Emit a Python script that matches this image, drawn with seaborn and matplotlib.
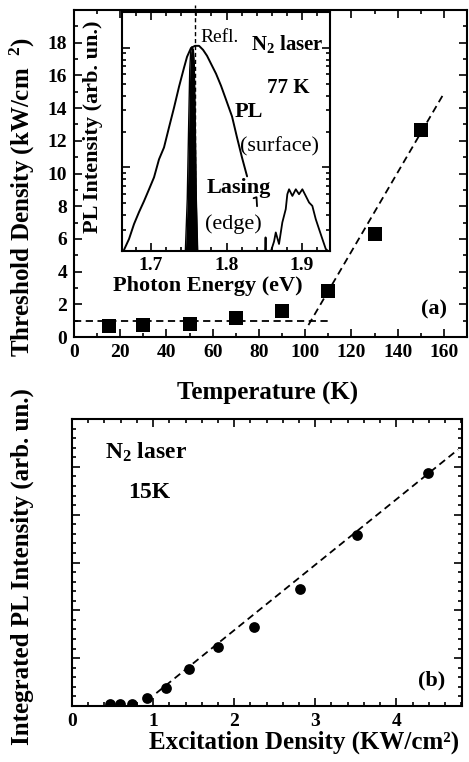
import matplotlib
matplotlib.use("Agg")
import matplotlib.pyplot as plt
import seaborn as sns
import pandas as pd
from matplotlib.ticker import MultipleLocator, LogLocator, NullFormatter

# ---------------- data: panel (a) ----------------
temp_K = [15, 30, 50, 70, 90, 110, 130, 150]
threshold_kw = [0.67, 0.73, 0.79, 1.14, 1.59, 2.82, 6.33, 12.67]
low_fit_T = [0, 111]
low_fit_y = [0.95, 0.95]
high_fit_T = [101.4, 160]
high_fit_y = [0.73, 14.9]

# ---------------- data: inset (77 K spectra) ----------------
pl_energy = [1.6642, 1.6709, 1.6775, 1.6841, 1.6907, 1.6974, 1.7040, 1.7106,
             1.7172, 1.7238, 1.7305, 1.7371, 1.7437, 1.7477, 1.7530, 1.7583,
             1.7636, 1.7689, 1.7742, 1.7795, 1.7861, 1.7927, 1.7993, 1.8073,
             1.8139, 1.8205, 1.8272]
pl_intensity = [2.04, 2.52, 3.36, 4.23, 5.22, 6.57, 8.27, 11.7, 14.7, 21.6,
                31.7, 47.4, 68.3, 84.3, 100.2, 104.2, 104.2, 96.5, 86.0, 73.7,
                60.9, 48.3, 37.0, 26.7, 17.8, 12.1, 8.43]
lasing_energy = [1.7455, 1.7480, 1.7500, 1.7513, 1.7525, 1.7543, 1.7561,
                 1.7573, 1.7585, 1.7600, 1.7618]
lasing_intensity = [2.0, 5.42, 25.2, 65.7, 92.8, 102.2, 96.5, 72.3, 25.2, 5.42, 2.0]
tail_energy = [1.8358, 1.8397, 1.8404]
tail_intensity = [5.53, 5.64, 4.74]
side_energy = [1.8510, 1.8517, 1.8523, 1.8589, 1.8629, 1.8652, 1.8695, 1.8739,
               1.8784, 1.8805, 1.8828, 1.8872, 1.8917, 1.8960, 1.9004, 1.9049,
               1.9093, 1.9136, 1.9181, 1.9225, 1.9269, 1.9314, 1.9344]
side_intensity = [2.0, 2.6, 2.0, 2.0, 2.4, 2.86, 2.29, 3.47, 4.48, 5.97, 6.57,
                  5.78, 6.57, 5.97, 6.57, 5.78, 5.09, 4.77, 3.70, 3.05, 2.52,
                  2.08, 2.0]
refl_energy = [1.7583, 1.7583]
refl_intensity = [2.0, 230.0]

# ---------------- data: panel (b) ----------------
exc_density = [0.47, 0.59, 0.74, 0.92, 1.16, 1.44, 1.80, 2.25, 2.81, 3.51, 4.39]
integrated_pl = [0.04, 0.04, 0.04, 0.16, 0.37, 0.77, 1.23, 1.66, 2.45, 3.58, 4.87]
fit_b_x = [1.04, 4.76]
fit_b_y = [0.27, 5.36]

# ---------------- style ----------------
sns.set_theme(style="ticks", rc={"text.color": "black",
                                 "axes.labelcolor": "black",
                                 "xtick.color": "black",
                                 "ytick.color": "black",
                                 "axes.edgecolor": "black"})
plt.rcParams["font.family"] = ["Liberation Serif", "DejaVu Serif"]
plt.rcParams["font.weight"] = "bold"
plt.rcParams["mathtext.fontset"] = "custom"
plt.rcParams["mathtext.rm"] = "Liberation Serif:bold"
plt.rcParams["mathtext.bf"] = "Liberation Serif:bold"
plt.rcParams["mathtext.it"] = "Liberation Serif:bold"
plt.rcParams["mathtext.default"] = "bf"
plt.rcParams["axes.linewidth"] = 1.5

W, H = 469, 762
fig = plt.figure(figsize=(W / 100, H / 100), dpi=100)
fig.patch.set_facecolor("white")


def rect(l, t, r, b):
    return [l / W, 1 - b / H, (r - l) / W, (b - t) / H]


def ftext(px, py, s, **kw):
    fig.text(px / W, 1 - py / H, s, color="black", **kw)


def style_ticks(ax, size=14):
    ax.tick_params(which="both", direction="in", top=True, right=True,
                   width=1.2, colors="black")
    ax.tick_params(which="major", length=5.5, labelsize=size, pad=5)
    ax.tick_params(which="minor", length=3)
    for lab in ax.get_xticklabels() + ax.get_yticklabels():
        lab.set_fontweight("bold")
    for sp in ax.spines.values():
        sp.set_linewidth(1.5)
        sp.set_color("black")


# ---------------- panel (a) ----------------
ax_a = fig.add_axes(rect(74, 10, 467, 337))
df_a = pd.DataFrame({"T": temp_K, "thr": threshold_kw})
sns.scatterplot(data=df_a, x="T", y="thr", ax=ax_a, marker="s", s=95,
                color="black", edgecolor="black", linewidth=0, zorder=3)
ax_a.plot(low_fit_T, low_fit_y, color="black", lw=1.3, dashes=(4, 2.5))
ax_a.plot(high_fit_T, high_fit_y, color="black", lw=1.3, dashes=(4, 2.5))
ax_a.set_xlim(0, 170)
ax_a.set_ylim(0, 20)
ax_a.xaxis.set_major_locator(MultipleLocator(20))
ax_a.xaxis.set_minor_locator(MultipleLocator(10))
ax_a.yaxis.set_major_locator(MultipleLocator(2))
ax_a.yaxis.set_minor_locator(MultipleLocator(1))
ax_a.set_yticks([0, 2, 4, 6, 8, 10, 12, 14, 16, 18])
ax_a.set_xlabel("")
ax_a.set_ylabel("")
style_ticks(ax_a)

ftext(268, 393, "Temperature (K)", ha="center", va="center", fontsize=18,
      fontweight="bold")
ftext(22, 197, "Threshold Density (kW/cm  $^2$)", ha="center", va="center",
      fontsize=18, fontweight="bold", rotation=90)
ftext(421, 309, "(a)", ha="left", va="center", fontsize=16, fontweight="bold")

# ---------------- inset ----------------
ax_in = fig.add_axes(rect(122, 12, 330, 251))
ax_in.set_facecolor("white")
ax_in.set_yscale("log")
ax_in.fill_between(lasing_energy, 2.0, lasing_intensity, color="black", lw=0)
sns.lineplot(x=lasing_energy, y=lasing_intensity, ax=ax_in, color="black",
             lw=1.0, sort=False, estimator=None)
sns.lineplot(x=pl_energy, y=pl_intensity, ax=ax_in, color="black", lw=1.4,
             sort=False, estimator=None)
sns.lineplot(x=tail_energy, y=tail_intensity, ax=ax_in, color="black", lw=1.3,
             sort=False, estimator=None)
sns.lineplot(x=side_energy, y=side_intensity, ax=ax_in, color="black", lw=1.3,
             sort=False, estimator=None)
ax_in.plot(refl_energy, refl_intensity, color="black", lw=1.0, dashes=(3, 2),
           clip_on=False)
ax_in.set_xlim(1.6616, 1.937)
ax_in.set_ylim(2, 200)
ax_in.xaxis.set_major_locator(MultipleLocator(0.1))
ax_in.xaxis.set_minor_locator(MultipleLocator(0.02))
ax_in.yaxis.set_major_locator(LogLocator(base=10))
ax_in.yaxis.set_minor_locator(LogLocator(base=10, subs=range(2, 10)))
ax_in.yaxis.set_major_formatter(NullFormatter())
ax_in.yaxis.set_minor_formatter(NullFormatter())
ax_in.set_xticks([1.7, 1.8, 1.9])
ax_in.set_xticklabels(["1.7", "1.8", "1.9"])
ax_in.set_xlabel("")
ax_in.set_ylabel("")
style_ticks(ax_in, size=14)
ax_in.tick_params(axis="x", which="major", pad=4)

ftext(208, 286, "Photon Energy (eV)", ha="center", va="center", fontsize=16,
      fontweight="bold")
ftext(93, 127, "PL Intensity (arb. un.)", ha="center", va="center",
      fontsize=16, fontweight="bold", rotation=90)
ftext(200, 37, "Refl.", ha="left", va="center", fontsize=14, fontweight="normal")
ftext(251, 44, "N$_2$ laser", ha="left", va="center", fontsize=15,
      fontweight="bold")
ftext(267, 88, "77 K", ha="left", va="center", fontsize=15, fontweight="bold")
ftext(235, 112, "PL", ha="left", va="center", fontsize=16, fontweight="bold")
ftext(240, 147, "(surface)", ha="left", va="center", fontsize=16,
      fontweight="normal")
ftext(207, 188, "Lasing", ha="left", va="center", fontsize=16,
      fontweight="bold")
ftext(205, 224, "(edge)", ha="left", va="center", fontsize=16,
      fontweight="normal")

# ---------------- panel (b) ----------------
ax_b = fig.add_axes(rect(72, 419, 462, 706))
df_b = pd.DataFrame({"exc": exc_density, "ipl": integrated_pl})
sns.scatterplot(data=df_b, x="exc", y="ipl", ax=ax_b, marker="o", s=60,
                color="black", edgecolor="black", linewidth=0, zorder=3)
ax_b.plot(fit_b_x, fit_b_y, color="black", lw=1.3, dashes=(4, 2.5))
ax_b.set_xlim(0, 4.81)
ax_b.set_ylim(0, 6)
ax_b.xaxis.set_major_locator(MultipleLocator(1))
ax_b.xaxis.set_minor_locator(MultipleLocator(0.2))
ax_b.yaxis.set_major_locator(MultipleLocator(1))
ax_b.yaxis.set_minor_locator(MultipleLocator(0.2))
ax_b.yaxis.set_major_formatter(NullFormatter())
ax_b.set_xticks([0, 1, 2, 3, 4])
ax_b.set_xlabel("")
ax_b.set_ylabel("")
style_ticks(ax_b)

ftext(304, 742, "Excitation Density (KW/cm²)", ha="center", va="center",
      fontsize=18, fontweight="bold")
ftext(22, 567, "Integrated PL Intensity (arb. un.)", ha="center", va="center",
      fontsize=18, fontweight="bold", rotation=90)
ftext(105, 452, "N$_2$ laser", ha="left", va="center", fontsize=17,
      fontweight="bold")
ftext(128, 492, "15K", ha="left", va="center", fontsize=17, fontweight="bold")
ftext(418, 680, "(b)", ha="left", va="center", fontsize=16, fontweight="bold")

fig.savefig("out.png", dpi=100, facecolor="white")
